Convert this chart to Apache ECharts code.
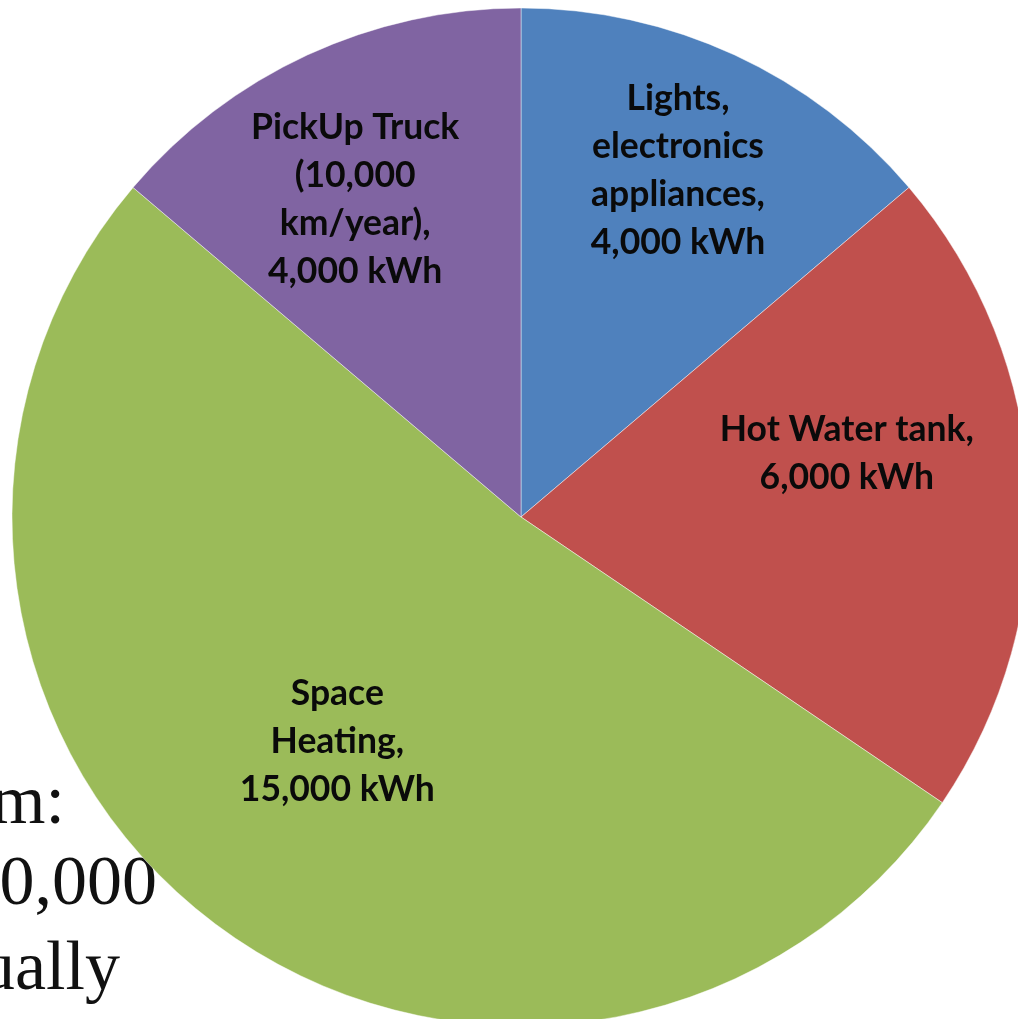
<!DOCTYPE html>
<html>
<head>
<meta charset="utf-8">
<style>
  html, body { margin: 0; padding: 0; background: #ffffff; }
  #chart { width: 1018px; height: 1019px; }
</style>
<script src="https://cdn.jsdelivr.net/npm/echarts@6/dist/echarts.min.js"></script>
</head>
<body>
<div id="chart"></div>
<script>
// ---- data ----
const categories = [
  'Lights,\nelectronics\nappliances,',
  'Hot Water tank,',
  'Space\nHeating,',
  'PickUp Truck\n(10,000\nkm/year),'
];
const values = [4000, 6000, 15000, 4000];
const sliceColors = ['#4F81BD', '#C0504D', '#9BBB59', '#8064A2'];
const backgroundLines = ['m:', '0,000', 'ually'];

// ---- layout (label placement as polar offsets from pie centre) ----
const cx = 521, cy = 517, R = 509;
const labelPolar = [ // [distance, angle clockwise from 12 o'clock in degrees]
  [380, 24.4],
  [332, 78.9],
  [290, 219.3],
  [358, 332.4]
];
const bgTextPos = [[65, 840], [157, 921], [120, 1006]];

function fmt(v) { return v.toLocaleString('en-US') + ' kWh'; }

const chart = echarts.init(document.getElementById('chart'), null, { renderer: 'canvas' });

chart.setOption({
  backgroundColor: '#ffffff',
  animation: false,
  graphic: {
    elements: backgroundLines.map((t, i) => ({
      type: 'text',
      z: 0,
      x: bgTextPos[i][0],
      y: bgTextPos[i][1],
      style: {
        text: t,
        fill: '#111111',
        font: '70px "Liberation Serif", "DejaVu Serif", serif',
        align: 'right',
        verticalAlign: 'bottom'
      }
    }))
  },
  series: [{
    type: 'pie',
    z: 5,
    center: [cx, cy],
    radius: [0, R],
    startAngle: 90,
    clockwise: true,
    avoidLabelOverlap: false,
    silent: true,
    itemStyle: {
      borderColor: 'rgba(255,255,255,0.45)',
      borderWidth: 1
    },
    label: {
      show: true,
      position: 'inside',
      color: '#0a0a0a',
      fontFamily: 'Lato, "Open Sans", sans-serif',
      fontWeight: 'bold',
      fontSize: 35.5,
      lineHeight: 48,
      align: 'center',
      formatter: p => p.name + '\n' + fmt(p.value)
    },
    labelLine: { show: false },
    labelLayout: function (params) {
      const lp = labelPolar[params.dataIndex];
      const a = lp[1] * Math.PI / 180;
      return {
        x: cx + lp[0] * Math.sin(a),
        y: cy - lp[0] * Math.cos(a),
        align: 'center',
        verticalAlign: 'middle'
      };
    },
    data: categories.map((c, i) => ({
      name: c,
      value: values[i],
      itemStyle: { color: sliceColors[i] }
    }))
  }]
});
</script>
</body>
</html>
